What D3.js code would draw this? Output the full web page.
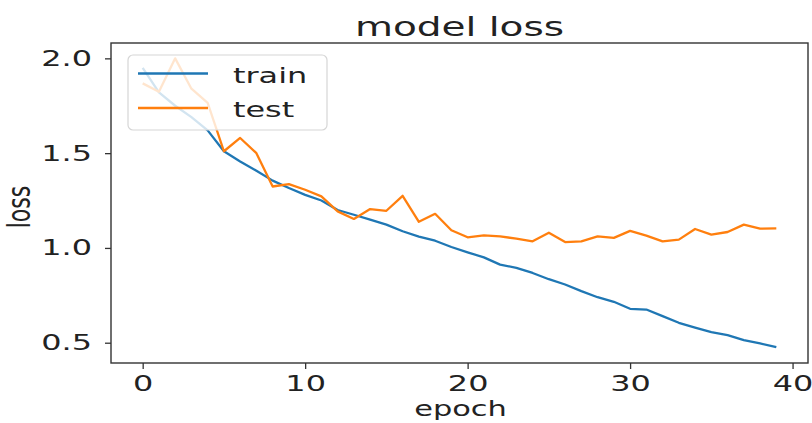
<!DOCTYPE html>
<html>
<head>
<meta charset="utf-8">
<script src="https://cdn.jsdelivr.net/npm/d3@7"></script>
<style>
  body { margin: 0; background: #fff; }
  text { font-family: "DejaVu Sans", sans-serif; fill: #222; }
</style>
</head>
<body>
<svg width="812" height="423"></svg>
<script>
// epochs 0..39
const epochs = d3.range(40)

const trainLoss = [1.95, 1.82, 1.75, 1.69, 1.62, 1.51, 1.456, 1.407, 1.355, 1.316,
    1.28, 1.25, 1.20, 1.175, 1.149, 1.123, 1.088, 1.06, 1.038, 1.005,
    0.977, 0.95, 0.912, 0.895, 0.868, 0.835, 0.807, 0.772, 0.74, 0.716,
    0.679, 0.675, 0.64, 0.605, 0.58, 0.556, 0.54, 0.514, 0.496, 0.477]

const testLoss = [1.868, 1.824, 2.0, 1.84, 1.765, 1.51, 1.58, 1.5, 1.324, 1.337,
    1.307, 1.272, 1.193, 1.153, 1.205, 1.196, 1.275, 1.138, 1.18, 1.093,
    1.056, 1.066, 1.061, 1.049, 1.035, 1.08, 1.031, 1.035, 1.061, 1.053,
    1.09, 1.065, 1.035, 1.044, 1.1, 1.07, 1.084, 1.123, 1.102, 1.103]

const xTicks = [0, 10, 20, 30, 40]
const yTicks = [0.5, 1.0, 1.5, 2.0]
const seriesNames = ["train", "test"]
const colors = ["#1f77b4", "#ff7f0e"]

const stretch = 1.45   // the picture is wider than tall, glyphs too

const svg = d3.select("svg")

//Marges
const margin = {top: 43, right: 4, bottom: 60, left: 111},
    width = 812 - margin.left - margin.right,
    height = 423 - margin.top - margin.bottom

const x = d3.scaleLinear()
    .domain([-1.95, 40.95])
    .range([0, width])

const y = d3.scaleLinear()
    .domain([0.393, 2.081])
    .range([height, 0])

const g = svg.append("g")
    .attr("transform", "translate(" + margin.left + "," + margin.top + ")")

// axes
const xAxis = g.append("g")
    .attr("transform", "translate(0," + height + ")")
    .call(d3.axisBottom(x).tickValues(xTicks).tickFormat(d3.format("d")).tickSize(6).tickSizeOuter(0).tickPadding(6))

const yAxis = g.append("g")
    .call(d3.axisLeft(y).tickValues(yTicks).tickFormat(d3.format(".1f")).tickSize(6).tickSizeOuter(0).tickPadding(13))

g.selectAll(".domain").remove()
g.selectAll(".tick line").attr("stroke", "#333").attr("stroke-width", 1.3)
g.selectAll(".tick text")
    .style("font-size", "22px")
    .attr("fill", "#222")
    .each(function () {
        const t = d3.select(this)
        const tx = +t.attr("x") || 0
        t.attr("x", 0).attr("transform", "translate(" + tx + ",0) scale(" + stretch + ",1)")
    })

// lines
const line = d3.line()
    .x((d, i) => x(epochs[i]))
    .y(d => y(d))

const allSeries = [trainLoss, testLoss]

g.selectAll(".series")
    .data(allSeries)
    .enter()
    .append("path")
    .attr("class", "series")
    .attr("d", line)
    .attr("fill", "none")
    .attr("stroke", (d, i) => colors[i])
    .attr("stroke-width", 2.3)
    .attr("stroke-linejoin", "round")

// frame
g.append("rect")
    .attr("width", width).attr("height", height)
    .attr("fill", "none").attr("stroke", "#333").attr("stroke-width", 1.4)

// legend
const legend = g.append("g").attr("transform", "translate(17,12)")
legend.append("rect")
    .attr("width", 199).attr("height", 75).attr("rx", 5)
    .attr("fill", "#fff").attr("fill-opacity", 0.8)
    .attr("stroke", "#d6d6d6").attr("stroke-width", 1.2)

seriesNames.forEach((name, i) => {
    const ly = 18.5 + i * 34.5
    legend.append("line")
        .attr("x1", 10).attr("x2", 80).attr("y1", ly).attr("y2", ly)
        .attr("stroke", colors[i]).attr("stroke-width", 2.3)
    legend.append("text")
        .attr("transform", "translate(105," + (ly + 9) + ") scale(" + stretch + ",1)")
        .style("font-size", "22px")
        .text(name)
})

// titres
svg.append("text")
    .attr("transform", "translate(" + (margin.left + width / 2) + ",36) scale(1.5,1)")
    .attr("text-anchor", "middle")
    .style("font-size", "26px")
    .text("model loss")

svg.append("text")
    .attr("transform", "translate(" + (margin.left + width / 2 + 1) + ",416) scale(" + stretch + ",1)")
    .attr("text-anchor", "middle")
    .style("font-size", "21px")
    .text("epoch")

svg.append("text")
    .attr("transform", "translate(30," + (margin.top + height / 2 + 4) + ") scale(" + stretch + ",1) rotate(-90)")
    .attr("text-anchor", "middle")
    .style("font-size", "22px")
    .text("loss")
</script>
</body>
</html>
